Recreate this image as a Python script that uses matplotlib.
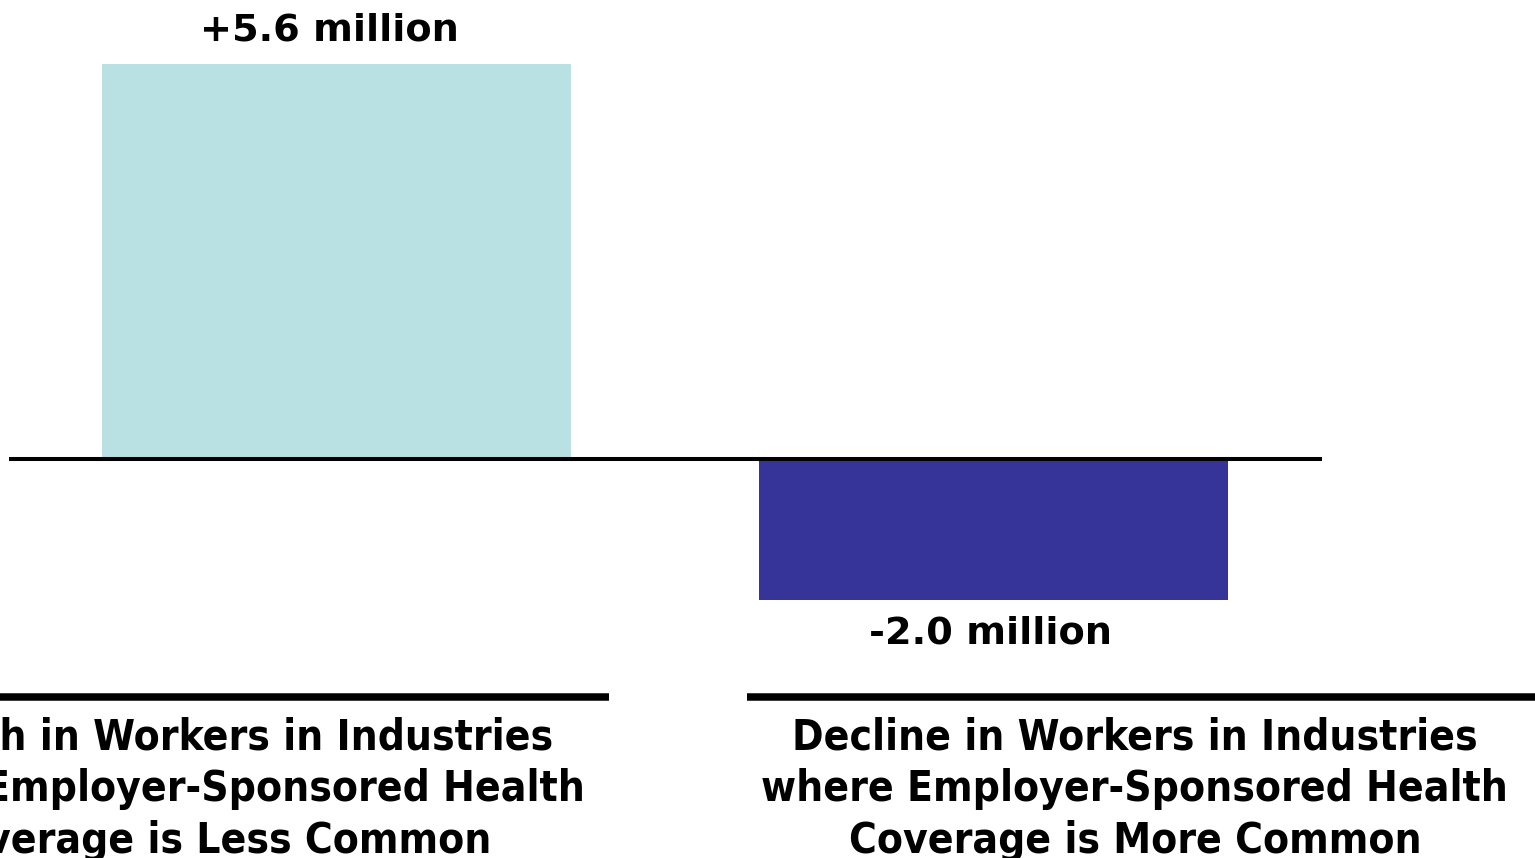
import matplotlib
matplotlib.use("Agg")
import matplotlib.pyplot as plt

# change in workers, millions
categories = [
    "Growth in Workers in Industries\nwhere Employer-Sponsored Health\nCoverage is Less Common",
    "Decline in Workers in Industries\nwhere Employer-Sponsored Health\nCoverage is More Common",
]
changes = [5.6, -2.0]
value_labels = ["+5.6 million", "-2.0 million"]
bar_colors = ["#B9E0E3", "#363498"]

plt.rcParams["font.family"] = ["DejaVu Sans"]

fig = plt.figure(figsize=(15.35, 8.58), dpi=100)
ax = fig.add_axes([0, 0, 1, 1])
ax.set_xlim(-0.512, 1.824)
ax.set_ylim(-5.652, 6.50)
ax.axis("off")

xs = list(range(len(changes)))
ax.bar(xs, changes, width=0.714, color=bar_colors, zorder=2)
ax.hlines(0, -0.4985, 1.5, color="black", lw=2.9, zorder=3)

for x, v, lab in zip(xs, changes, value_labels):
    if v >= 0:
        ax.text(x - 0.01, v + 0.22, lab, ha="center", va="bottom",
                fontsize=27.5, fontweight="bold")
    else:
        ax.text(x - 0.005, v - 0.22, lab, ha="center", va="top",
                fontsize=27.5, fontweight="bold")

# category captions with rule lines above them
rule_y = -3.371
ax.hlines(rule_y, -0.6, 0.415, color="black", lw=5.4, clip_on=False)
ax.hlines(rule_y, 0.625, 1.9, color="black", lw=5.4, clip_on=False)
caption_x = [-0.19, 1.215]
for cx, text in zip(caption_x, categories):
    ax.text(cx, rule_y - 0.27, text, ha="center", va="top", fontsize=30.4,
            fontweight="bold", fontstretch="condensed", linespacing=1.3)

fig.savefig("out.png", dpi=100)
